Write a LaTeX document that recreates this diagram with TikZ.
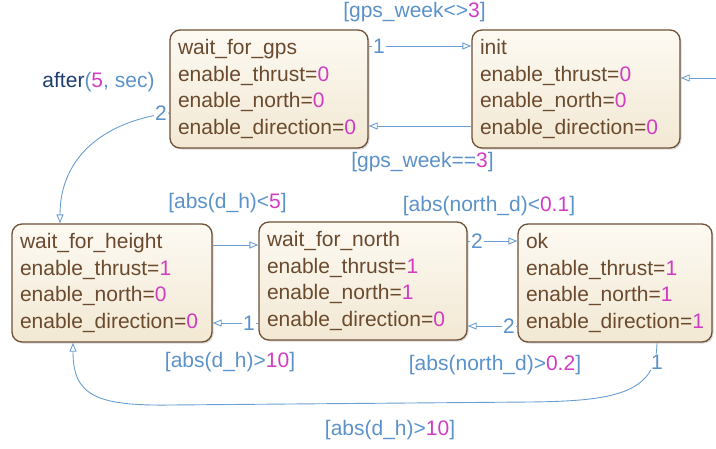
\documentclass[tikz,border=0pt]{standalone}
\usepackage{fontspec}
\setmainfont{Liberation Sans}
\usetikzlibrary{arrows.meta,shadows,calc}
\definecolor{brd}{HTML}{6E5035}
\definecolor{txt}{HTML}{6B4A2E}
\definecolor{mag}{HTML}{D23CC3}
\definecolor{connc}{HTML}{6A9ED3}
\definecolor{lbl}{HTML}{5B92C9}
\definecolor{darkc}{HTML}{1E3D70}
\definecolor{ftop}{HTML}{FDFAF3}
\definecolor{fbot}{HTML}{F2E8D3}
\newcommand{\nv}[1]{\textcolor{mag}{#1}}
\begin{document}
\begin{tikzpicture}[x=1pt,y=-1pt,
 statebox/.style={draw=brd, line width=1.3pt, rounded corners=10pt, top color=ftop, bottom color=fbot,
   drop shadow={shadow xshift=1.5pt, shadow yshift=-1.5pt, opacity=0.3},
   minimum height=118pt, inner xsep=8pt, inner ysep=0pt, align=left, text=txt,
   font=\fontsize{21}{26.7}\selectfont},
 conn/.style={draw=connc, line width=0.9pt, -{Triangle[open,length=9pt,width=7pt]}},
 guard/.style={text=lbl, font=\fontsize{21}{25}\selectfont, inner sep=1pt},
 num/.style={text=lbl, font=\fontsize{21}{25}\selectfont, fill=white, inner sep=1pt},
]
\useasboundingbox (0,0) rectangle (716,448);

\node[statebox, text width=182pt] (gps) at (269,89) {wait\_for\_gps\\enable\_thrust=\nv{0}\\enable\_north=\nv{0}\\enable\_direction=\nv{0}};
\node[statebox, text width=192pt] (init) at (576,89) {init\\enable\_thrust=\nv{0}\\enable\_north=\nv{0}\\enable\_direction=\nv{0}};
\node[statebox, text width=184pt] (height) at (112,283) {wait\_for\_height\\enable\_thrust=\nv{1}\\enable\_north=\nv{0}\\enable\_direction=\nv{0}};
\node[statebox, text width=192pt] (north) at (363,281) {wait\_for\_north\\enable\_thrust=\nv{1}\\enable\_north=\nv{1}\\enable\_direction=\nv{0}};
\node[statebox, text width=178pt] (ok) at (615,283) {ok\\enable\_thrust=\nv{1}\\enable\_north=\nv{1}\\enable\_direction=\nv{1}};

\coordinate (rin) at (716,78);

% connectors
\draw[conn] ($(gps.east)+(0,-43)$) -- ($(init.west)+(0,-43)$);
\draw[conn] ($(init.west)+(0,37)$) -- ($(gps.east)+(0,37)$);
\draw[conn] (rin) -- ($(init.east)+(0,-11)$);
\draw[conn] ($(gps.west)+(0,24)$) .. controls (100,122) and (60,160) .. ($(height.north)+(-52,0)$);
\draw[conn] ($(height.east)+(0,-38)$) -- ($(north.west)+(0,-36)$);
\draw[conn] ($(north.west)+(0,42)$) -- ($(height.east)+(0,40)$);
\draw[conn] ($(north.east)+(0,-40)$) -- ($(ok.west)+(0,-42)$);
\draw[conn] ($(ok.west)+(0,43)$) -- ($(north.east)+(0,45)$);
\draw[conn] ($(ok.south)+(42,0)$) .. controls (657,395) and (610,401) .. (530,402) -- (170,405) .. controls (95,406) and (73,395) .. ($(height.south)+(-39,0)$);

% transition numbers
\node[num] (n1) at (379,46) {1};
\node[num] (n2) at (161,113) {2};
\node[num] (n3) at (249,323) {1};
\node[num] (n4) at (477,241) {2};
\node[num] (n5) at (509,326) {2};
\node[num] (n6) at (657,362) {1};

% guards
\node[guard] (g1) at (414.5,12) {[gps\_week<>\nv{3}]};
\node[guard] (g2) at (422.5,162) {[gps\_week==\nv{3}]};
\node[guard] (g3) at (98.5,82) {\textcolor{darkc}{after}(\nv{5}, sec)};
\node[guard] (g4) at (227.5,203) {[abs(d\_h)<\nv{5}]};
\node[guard] (g5) at (230,362) {[abs(d\_h)>\nv{10}]};
\node[guard] (g6) at (489,206) {[abs(north\_d)<\nv{0.1}]};
\node[guard] (g7) at (495,365) {[abs(north\_d)>\nv{0.2}]};
\node[guard] (g8) at (390,430) {[abs(d\_h)>\nv{10}]};
\end{tikzpicture}
\end{document}
